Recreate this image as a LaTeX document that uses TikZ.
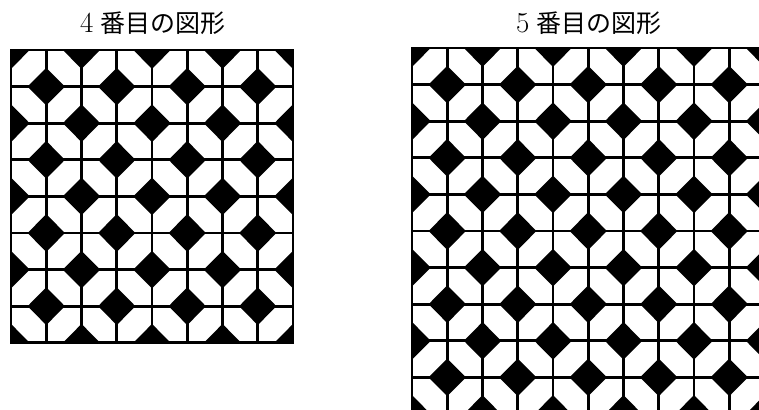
\documentclass[tikz,border=0pt]{standalone}
\usepackage{fontspec}
\newfontfamily\jpfont{Noto Sans CJK JP}

\begin{document}
\begin{tikzpicture}[
  x=1pt, y=-1pt,
  rule/.style={line width=2.8pt},
  gem/.style={fill=black},
  title/.style={font=\fontsize{25}{28}\selectfont}
]
\useasboundingbox (0,0) rectangle (759,409);

% n-th figure: 2n x 2n cells, diamonds where i+j is even
\foreach \n/\ox/\oy/\tx in {4/11/50/153, 5/412/48/589} {
  \pgfmathtruncatemacro{\N}{2*\n}
  \node[title] (title\n) at (\tx,23) {{\fontsize{29}{30}\selectfont\n}\hspace{.3em}{\jpfont 番目の図形}};
  \begin{scope}[shift={(\ox pt,-\oy pt)}, x=35.25pt, y=-36.6pt]
    \begin{scope}
      \clip (0,0) rectangle (\N,\N);
      \foreach \i in {1,...,\N} {
        \draw[rule] (\i,0) -- (\i,\N);
        \draw[rule] (0,\i) -- (\N,\i);
      }
      \foreach \i in {0,...,\N} \foreach \j in {0,...,\N} {
        \ifodd\numexpr\i+\j\relax\else
          \fill[gem] (\i-0.53,\j) -- (\i,\j-0.515) -- (\i+0.53,\j) -- (\i,\j+0.515) -- cycle;
        \fi
      }
    \end{scope}
    \draw[rule] (0,0) rectangle (\N,\N);
  \end{scope}
}
\end{tikzpicture}
\end{document}
